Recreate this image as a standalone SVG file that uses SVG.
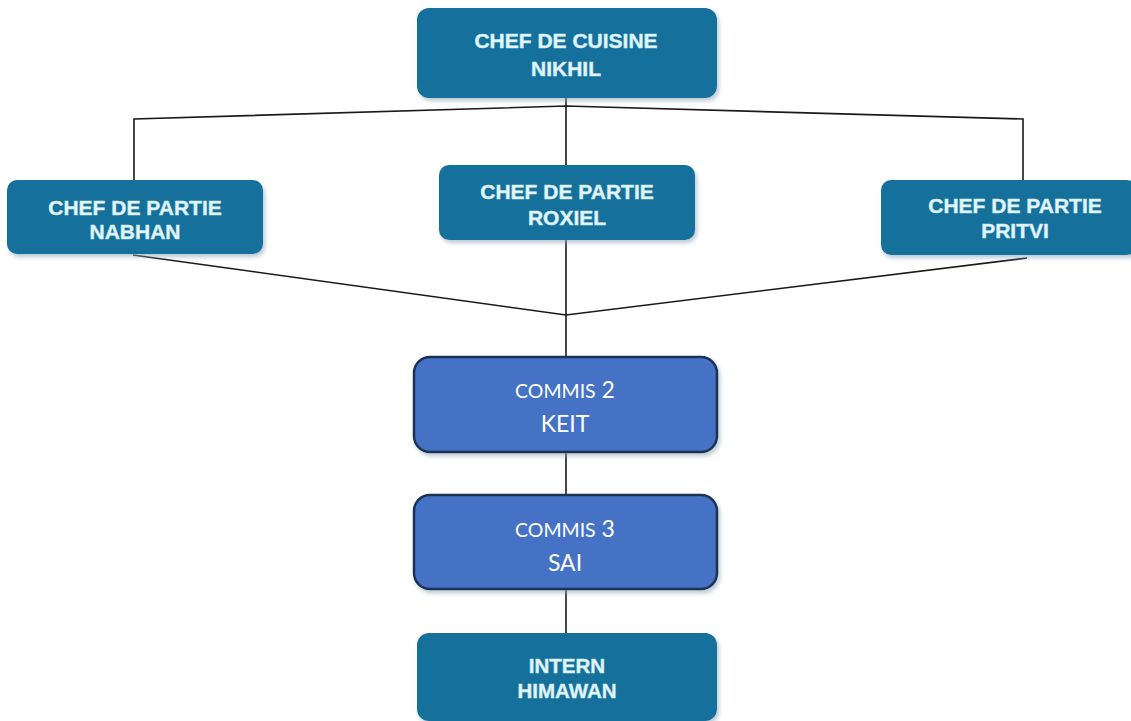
<svg xmlns="http://www.w3.org/2000/svg" width="1131" height="721" viewBox="0 0 1131 721">
<defs>
<filter id="sh" x="-5%" y="-10%" width="115%" height="130%">
<feGaussianBlur in="SourceAlpha" stdDeviation="2"/>
<feOffset dx="2" dy="3" result="b"/>
<feFlood flood-color="#8aa6b8" flood-opacity="0.6"/>
<feComposite in2="b" operator="in"/>
<feMerge><feMergeNode/><feMergeNode in="SourceGraphic"/></feMerge>
</filter>
</defs>
<style>
.t{fill:#15709c;filter:url(#sh)}
.c{fill:#4472c4;stroke:#1f3353;stroke-width:2.5;filter:url(#sh)}
.tt{font-family:"Liberation Sans",Arial,sans-serif;font-weight:bold;font-size:21px;fill:#e6f6fa;text-anchor:middle;stroke:#bfe6f0;stroke-width:0.5}
.ct{font-family:Lato,"Open Sans",sans-serif;fill:#ffffff;text-anchor:middle;font-size:23px}
.sm{font-size:19.5px}
.ln{fill:none;stroke:#1a1a1a;stroke-width:1.6}
</style>
<rect width="1131" height="721" fill="#ffffff"/>
<g id="connectors">
<polyline class="ln" points="134,180 134,119 566,106 1023,119 1023,180"/>
<line class="ln" x1="566" y1="98" x2="566" y2="165"/>
<polyline class="ln" points="133,255 566,315 1027,258"/>
<line class="ln" x1="566" y1="240" x2="566" y2="357"/>
<line class="ln" x1="566" y1="452" x2="566" y2="495"/>
<line class="ln" x1="566" y1="589" x2="566" y2="633"/>
</g>
<g id="chef-de-cuisine">
<rect class="t" x="417" y="8" width="300" height="90" rx="12"/>
<text class="tt" x="566" y="48">CHEF DE CUISINE</text>
<text class="tt" x="566" y="76">NIKHIL</text>
</g>
<g id="nabhan">
<rect class="t" x="7" y="180" width="256" height="74" rx="10"/>
<text class="tt" x="135" y="215">CHEF DE PARTIE</text>
<text class="tt" x="135" y="239">NABHAN</text>
</g>
<g id="roxiel">
<rect class="t" x="439" y="165" width="256" height="75" rx="10"/>
<text class="tt" x="567" y="199">CHEF DE PARTIE</text>
<text class="tt" x="567" y="225">ROXIEL</text>
</g>
<g id="pritvi">
<rect class="t" x="881" y="180" width="256" height="75" rx="10"/>
<text class="tt" x="1015" y="213">CHEF DE PARTIE</text>
<text class="tt" x="1015" y="238">PRITVI</text>
</g>
<g id="commis2">
<rect class="c" x="414" y="357" width="303" height="95" rx="16"/>
<text class="ct" x="565" y="398"><tspan class="sm">COMMIS</tspan> 2</text>
<text class="ct" x="565" y="432">KEIT</text>
</g>
<g id="commis3">
<rect class="c" x="414" y="495" width="303" height="94" rx="16"/>
<text class="ct" x="565" y="537"><tspan class="sm">COMMIS</tspan> 3</text>
<text class="ct" x="565" y="571">SAI</text>
</g>
<g id="intern">
<rect class="t" x="417" y="633" width="300" height="88" rx="12"/>
<text class="tt" x="567" y="673" style="font-size:20.5px">INTERN</text>
<text class="tt" x="567" y="698" style="font-size:20.5px">HIMAWAN</text>
</g>
</svg>
